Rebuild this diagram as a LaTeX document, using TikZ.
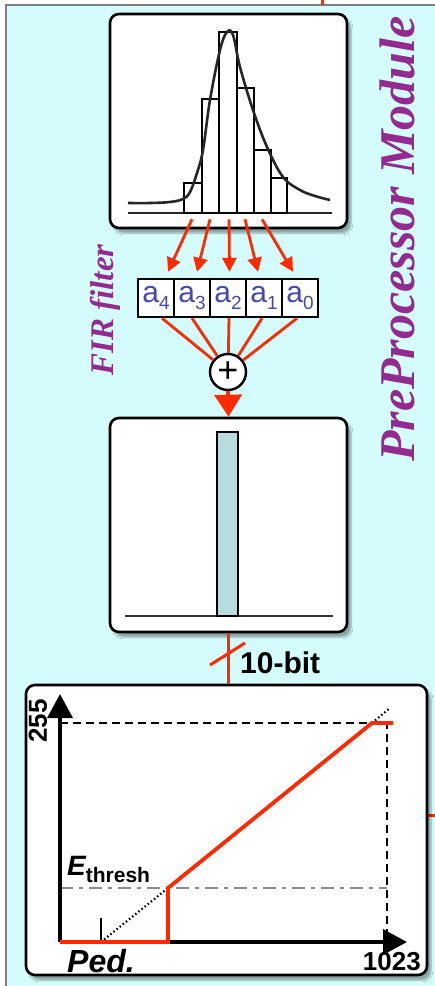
\documentclass[tikz,border=0pt]{standalone}
\usepackage{fontspec}
\setmainfont{Liberation Serif}
\setsansfont{Liberation Sans}
\usetikzlibrary{arrows.meta,shadows.blur,calc}
\definecolor{bgc}{HTML}{D5FCFC}
\definecolor{redc}{HTML}{FF2A00}
\definecolor{purp}{HTML}{922A8F}
\definecolor{coef}{HTML}{4848A8}
\definecolor{barc}{HTML}{B8DCDC}
\begin{document}
\begin{tikzpicture}[x=1pt,y=-1pt,
  panel/.style={draw=black, line width=2.6pt, fill=white, rounded corners=9pt,
    blur shadow={shadow xshift=4pt, shadow yshift=-5pt, shadow opacity=35, shadow blur steps=6},
    inner sep=0pt},
  coefbox/.style={draw=black, line width=2.4pt, fill=white, minimum width=36pt,
    minimum height=38pt, inner sep=0pt, text=coef,
    font=\sffamily\fontsize{30}{30}\selectfont},
  redl/.style={draw=redc, line width=2.8pt},
  redarr/.style={redl, -{Triangle[length=14pt,width=14pt]}},
  sidelabel/.style={text=purp, rotate=90, font=\bfseries\itshape},
  axis/.style={draw=black, line width=3.4pt, -{Triangle[length=24pt,width=25pt]}},
  plotlbl/.style={font=\sffamily\bfseries, inner sep=0pt}
]
\useasboundingbox (0,0) rectangle (435,986);
% background panel
\fill[bgc] (6,5) rectangle (435,986);
\draw[gray, line width=1.2pt] (6,986) -- (6,5) -- (435,5);
\draw[redl, line width=3pt] (322,0) -- (322,5);
\draw[redl, line width=3pt] (421,815) -- (435,815);

% side labels
\node[sidelabel, font=\bfseries\itshape\fontsize{50}{50}\selectfont] (ppm) at (397,239) {PreProcessor Module};
\node[sidelabel, font=\bfseries\itshape\fontsize{33}{33}\selectfont] (fir) at (105,310) {FIR filter};

% histogram box
\node[panel, minimum width=237pt, minimum height=214pt] (hist) at (228.5,121) {};
\draw[line width=1.6pt, black!85] (128,213) -- (332,213);
\begin{scope}[line width=2pt]
\draw (184,213) rectangle (202,183);
\draw (202,213) rectangle (219,99);
\draw (219,213) rectangle (237,32);
\draw (237,213) rectangle (254,88);
\draw (254,213) rectangle (271,150);
\draw (271,213) rectangle (287,178);
\end{scope}
\draw[line width=2.6pt, black!85] plot[smooth, tension=0.6] coordinates {(128,203) (150,203) (170,202) (183,199) (190,192) (197,173) (203,150) (210,100) (220,50) (227,32) (233,35) (240,67) (253,110) (267,147) (283,177) (300,190) (315,196) (330,200)};

% coefficients
\node[coefbox] (c4) at (156,298) {a\raisebox{-7pt}{\fontsize{19}{19}\selectfont 4}};
\node[coefbox] (c3) at (192,298) {a\raisebox{-7pt}{\fontsize{19}{19}\selectfont 3}};
\node[coefbox] (c2) at (228,298) {a\raisebox{-7pt}{\fontsize{19}{19}\selectfont 2}};
\node[coefbox] (c1) at (264,298) {a\raisebox{-7pt}{\fontsize{19}{19}\selectfont 1}};
\node[coefbox] (c0) at (300,298) {a\raisebox{-7pt}{\fontsize{19}{19}\selectfont 0}};

\draw[redarr] ($(hist.south)+(-36.5,-10)$) -- ($(c4.north)+(12,-6)$);
\draw[redarr] ($(hist.south)+(-18.5,-10)$) -- ($(c3.north)+(5,-6)$);
\draw[redarr] ($(hist.south)+(0.5,-10)$) -- ($(c2.north)+(1.5,-6)$);
\draw[redarr] ($(hist.south)+(16.5,-10)$) -- ($(c1.north)+(-6,-6)$);
\draw[redarr] ($(hist.south)+(33.5,-10)$) -- ($(c0.north)+(-7,-6)$);

% summation
\node[circle, draw=black, line width=2.4pt, fill=white, minimum size=36pt, inner sep=0pt,
  font=\sffamily\fontsize{36}{36}\selectfont] (plus) at (228,372) {+};
\draw[redl] ($(c4.south)+(6,0)$) -- (plus);
\draw[redl] ($(c3.south)+(0,0)$) -- (plus);
\draw[redl] ($(c2.south)+(1,0)$) -- (plus);
\draw[redl] ($(c1.south)+(-2,0)$) -- (plus);
\draw[redl] ($(c0.south)+(-3,0)$) -- (plus);

% pulse box
\node[panel, minimum width=237pt, minimum height=214pt] (pulse) at (228.5,525) {};
\draw[redl, line width=4pt, -{Triangle[length=22pt,width=27pt]}] (plus.south) -- (pulse.north);
\draw[line width=1.6pt, black!80] (125,616) -- (333,616);
\draw[line width=1.6pt, fill=barc] (217,616) rectangle (238,432);

% transfer box
\node[panel, minimum width=401pt, minimum height=290pt] (xfer) at (226.5,830) {};
\draw[redl, line width=3pt] (pulse.south) -- (pulse.south |- xfer.north);
\coordinate (slashmid) at (228,654);
\draw[redl, line width=3pt] ($(slashmid)+(-18,11)$) -- ($(slashmid)+(17,-11)$);
\node[plotlbl, font=\sffamily\bfseries\fontsize{30}{30}\selectfont, anchor=base west] (bits) at (240,673) {10-bit};

% plot
\coordinate (O) at (60,942);
\coordinate (ytop) at (60,694);
\coordinate (xend) at (407,942);
\draw[black!45, line width=2.4pt, dash pattern=on 13pt off 6pt on 4pt off 6pt] (60,888) -- (387,888);
\draw[black, line width=2.2pt, dash pattern=on 8pt off 5pt] (60,723) -- (387,723) -- (387,942);
\draw[axis] (O) -- (ytop);
\draw[axis] (O) -- (xend);
\draw[black, line width=2.2pt, dash pattern=on 1.5pt off 2.5pt] (101,942) -- (168,888);
\draw[black, line width=2.2pt, dash pattern=on 1.5pt off 2.5pt] (372,723) -- (390,708);
\draw[black, line width=1.5pt] (101,918) -- (101,942);
\draw[redc, line width=3.8pt] (O) -- (168,942) -- (168,888) -- (372,723) -- (393,723);

\node[plotlbl, rotate=90, font=\sffamily\bfseries\fontsize{26}{26}\selectfont] (l255) at (38,721) {255};
\node[plotlbl, anchor=base west, font=\sffamily\bfseries\fontsize{28}{28}\selectfont] (eth) at (67,875) {\itshape E\upshape\raisebox{-7pt}{\fontsize{21}{21}\selectfont thresh}};
\node[plotlbl, anchor=base west, font=\sffamily\bfseries\itshape\fontsize{32}{32}\selectfont] (ped) at (67,972) {Ped.};
\node[plotlbl, anchor=base east, font=\sffamily\bfseries\fontsize{26}{26}\selectfont] (x1023) at (421,970) {1023};
\end{tikzpicture}
\end{document}
